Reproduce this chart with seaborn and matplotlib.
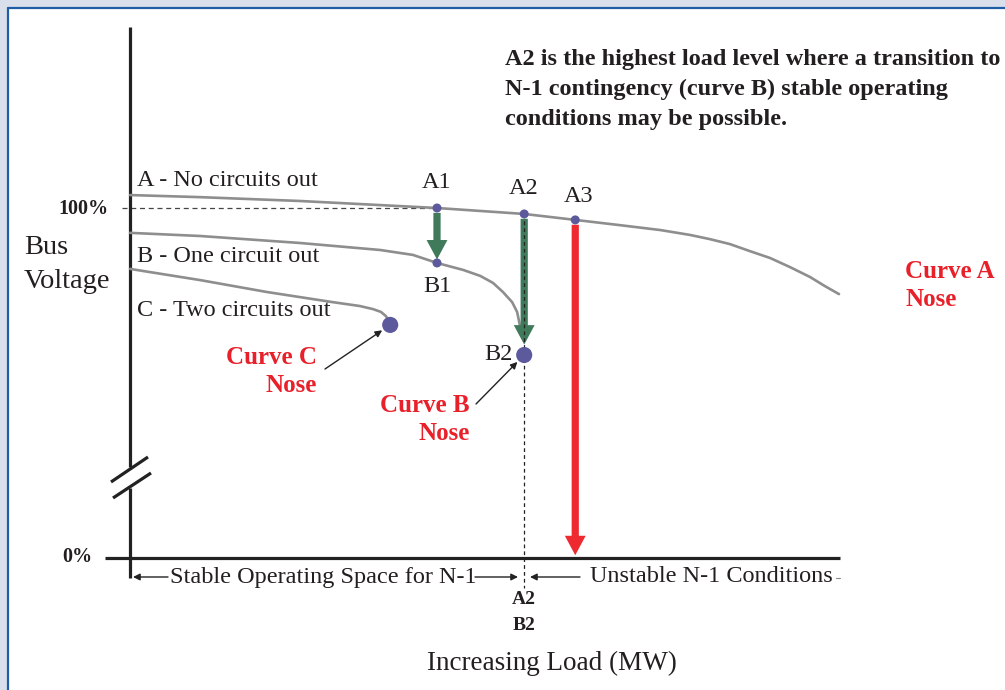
import matplotlib
matplotlib.use("Agg")
import numpy as np
import pandas as pd
import matplotlib.pyplot as plt
import seaborn as sns
from matplotlib.transforms import Affine2D
from matplotlib.patches import Rectangle
from matplotlib.lines import Line2D

# Curvas P-V (carga en unidades relativas, tension en %)
load_a = [0, 9.9, 24.0, 43.3, 55.6, 62.8, 69.1, 74.8, 79.0, 81.8, 84.6, 87.4, 90.3, 93.1, 95.9, 98.0, 100.0]
volt_a = [103.7, 103.1, 102.0, 100.0, 98.3, 96.6, 95.1, 93.7, 92.3, 91.1, 89.7, 87.7, 85.7, 83.1, 80.3, 77.7, 75.4]

load_b = [0, 9.9, 24.0, 35.3, 39.9, 43.3, 47.0, 49.4, 51.2, 52.6, 53.9, 54.6, 54.9, 55.1]
volt_b = [92.9, 92.0, 90.0, 88.0, 86.6, 84.3, 82.3, 80.6, 78.6, 76.0, 73.1, 70.3, 67.4, 65.1]

load_c = [0, 9.9, 19.3, 28.6, 32.4, 34.3, 35.4, 36.1, 36.5]
volt_c = [82.6, 79.4, 76.0, 73.1, 72.0, 71.1, 70.3, 69.1, 67.7]

# Puntos de operacion
pt_names = ["A1", "A2", "A3", "B1"]
pt_load = [43.3, 55.6, 62.8, 43.3]
pt_volt = [100.0, 98.3, 96.6, 84.3]

nose_names = ["B2", "C"]
nose_load = [55.6, 36.7]
nose_volt = [58.0, 66.6]

curve_labels = ["A - No circuits out", "B - One circuit out", "C - Two circuits out"]

W, H = 1005, 690
X0, XS = 130, 7.09   # pixel of load 0, px per unit
Y0, YS = 558, 3.5    # pixel of 0 %, px per %

sns.set_theme(style="white")
plt.rcParams["font.family"] = ["Liberation Serif", "DejaVu Serif"]

fig = plt.figure(figsize=(W / 100, H / 100), dpi=100)
fig.patch.set_facecolor("#d9e0ec")
pix = Affine2D().scale(1 / W, -1 / H).translate(0, 1) + fig.transFigure

# marco
fig.add_artist(Rectangle((9, 9), W + 10, H + 10, transform=pix, facecolor="white",
                         edgecolor="none", zorder=-10))
fig.add_artist(Line2D([8, 8], [8, H + 5], transform=pix, color="#1f5ea6", lw=1.6, zorder=-9))
fig.add_artist(Line2D([8, W + 5], [8, 8], transform=pix, color="#1f5ea6", lw=1.6, zorder=-9))

ax = fig.add_axes([0, 0, 1, 1])
ax.patch.set_alpha(0)
ax.set_xlim((0 - X0) / XS, (W - X0) / XS)
ax.set_ylim((Y0 - H) / YS, Y0 / YS)
ax.axis("off")

# ejes dibujados a mano (con corte)
axis_kw = dict(transform=pix, color="#222222", lw=2.3, clip_on=False, solid_capstyle="butt")
ax.add_line(Line2D([130, 130], [27, 467], **axis_kw))
ax.add_line(Line2D([130, 130], [488, 578], **axis_kw))
ax.add_line(Line2D([105, 840], [558, 558], **axis_kw))
ax.add_line(Line2D([111, 148], [482, 457], **axis_kw))
ax.add_line(Line2D([113, 151], [498, 473], **axis_kw))

# lineas de referencia
ax.plot([-1.1, pt_load[0]], [100, 100], color="#444444", lw=0.9, ls=(0, (4, 3)), zorder=1)

# curvas
grey = "#8e8e8e"
for lx, vy in [(load_a, volt_a), (load_b, volt_b), (load_c, volt_c)]:
    d = pd.DataFrame({"load": lx, "volt": vy})
    sns.lineplot(data=d, x="load", y="volt", sort=False, estimator=None,
                 color=grey, lw=1.9, ax=ax, zorder=2)

# flechas
def big_arrow(x, y0, y1, color, sa, sb, hw=15, hl=14, tw=5.2):
    ax.annotate("", xy=(x, y1), xytext=(x, y0),
                arrowprops=dict(arrowstyle=f"simple,head_length={hl},head_width={hw},tail_width={tw}",
                                mutation_scale=1, color=color, lw=0, shrinkA=sa, shrinkB=sb),
                zorder=3)

green = "#3f7a5a"
big_arrow(pt_load[0], pt_volt[0], pt_volt[3], green, 3.5, 2.5)
big_arrow(pt_load[1], pt_volt[1], nose_volt[0], green, 3.5, 7.5)
big_arrow(pt_load[2], pt_volt[2], 0, "#ee2a30", 3.5, 2.0)

# vertical discontinua en A2/B2
ax.plot([pt_load[1], pt_load[1]], [pt_volt[1], -8.6], color="#222222", lw=0.9,
        ls=(0, (3, 2.5)), zorder=4)

# puntos
dot = "#5c5a9c"
sns.scatterplot(x=pt_load, y=pt_volt, s=42, color=dot, edgecolor="none", ax=ax, zorder=5)
sns.scatterplot(x=nose_load, y=nose_volt, s=135, color=dot, edgecolor="none", ax=ax, zorder=5)

# textos
def t(x, y, s, **kw):
    kw.setdefault("va", "center")
    kw.setdefault("ha", "left")
    kw.setdefault("fontsize", 17.5)
    kw.setdefault("color", "#231f20")
    ax.text(x, y, s, transform=pix, clip_on=False, **kw)

t(137, 180, curve_labels[0])
t(137, 257, curve_labels[1])
t(137, 310, curve_labels[2])
t(437, 183, pt_names[0], ha="center")
t(524, 188, pt_names[1], ha="center")
t(579, 197, pt_names[2], ha="center")
t(437, 286, pt_names[3], ha="center")
t(513, 354, nose_names[0], ha="right")

t(109, 209, "100%", ha="right", fontsize=14.5, fontweight="bold")
t(92, 557, "0%", ha="right", fontsize=14.5, fontweight="bold")
t(24, 248, "Bus", fontsize=20.5)
t(24, 281, "Voltage", fontsize=20.5)

for i, line in enumerate(["A2 is the highest load level where a transition to",
                          "N-1 contingency (curve B) stable operating",
                          "conditions may be possible."]):
    t(505, 59 + 30 * i, line, fontsize=17.5, fontweight="bold")

red = "#e8202a"
t(905, 271, "Curve A", color=red, fontweight="bold", fontsize=18)
t(905, 300, "Nose", color=red, fontweight="bold", fontsize=18)
t(317, 357, "Curve C", color=red, fontweight="bold", ha="right", fontsize=18)
t(317, 386, "Nose", color=red, fontweight="bold", ha="right", fontsize=18)
t(470, 405, "Curve B", color=red, fontweight="bold", ha="right", fontsize=18)
t(470, 434, "Nose", color=red, fontweight="bold", ha="right", fontsize=18)

ax.annotate("", xy=(nose_load[1], nose_volt[1]), xytext=(325, 369), textcoords=pix,
            arrowprops=dict(arrowstyle="-|>", color="#222222", lw=1, mutation_scale=10,
                            shrinkA=0, shrinkB=7))
ax.annotate("", xy=(nose_load[0], nose_volt[0]), xytext=(476, 404), textcoords=pix,
            arrowprops=dict(arrowstyle="-|>", color="#222222", lw=1, mutation_scale=10,
                            shrinkA=0, shrinkB=7))

# rotulos del eje x
t(170, 577, "Stable Operating Space for N-1")
t(590, 577, "Unstable N-1 Conditions")
ax.add_line(Line2D([836, 840], [578, 578], transform=pix, color="#888888", lw=0.8, clip_on=False))
for a, b in [((168, 577), (133, 577)), ((475, 577), (518, 577)), ((580, 577), (530, 577))]:
    ax.annotate("", xy=b, xytext=a, xycoords=pix, textcoords=pix,
                arrowprops=dict(arrowstyle="-|>", color="#222222", lw=1, mutation_scale=10,
                                shrinkA=0, shrinkB=0))
t(524, 600, "A2", ha="center", fontsize=14, fontweight="bold")
t(524, 625, "B2", ha="center", fontsize=14, fontweight="bold")
t(552, 663, "Increasing Load (MW)", ha="center", fontsize=19.5)

fig.savefig("out.png", dpi=100)
